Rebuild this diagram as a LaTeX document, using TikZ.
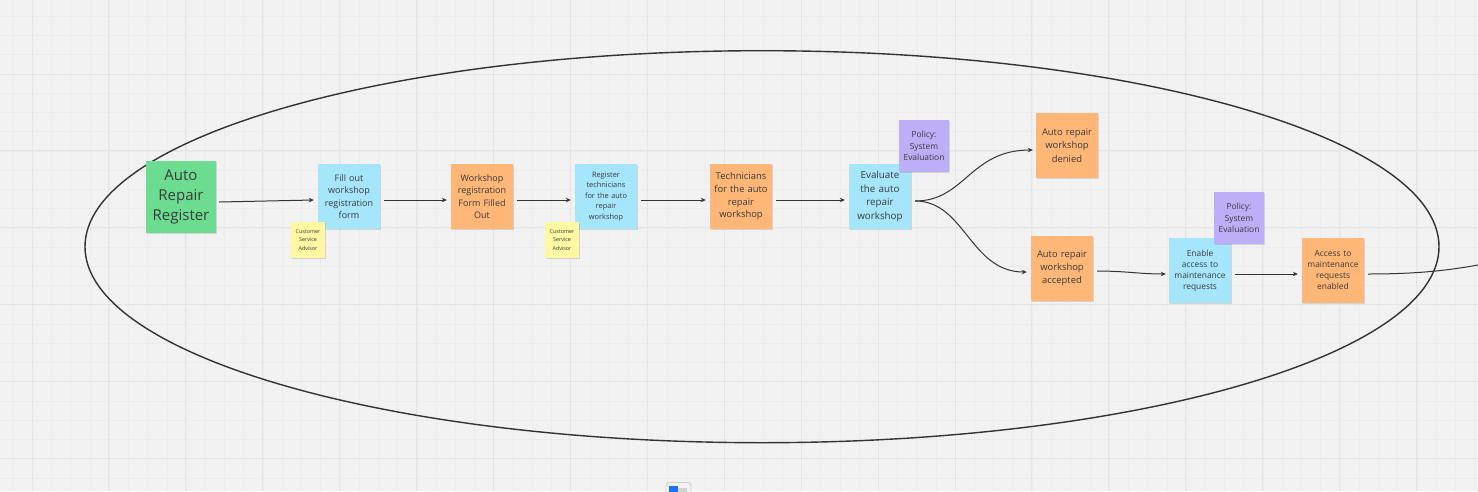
\documentclass[tikz,border=0pt]{standalone}
\usepackage{fontspec}
\setmainfont{Open Sans}
\usetikzlibrary{arrows.meta,shadows}
\definecolor{bg}{HTML}{F2F2F2}
\definecolor{gridminor}{HTML}{ECECEC}
\definecolor{gridmajor}{HTML}{E5E5E5}
\definecolor{sgreen}{HTML}{6CDD90}
\definecolor{sblue}{HTML}{A6E6FC}
\definecolor{sorange}{HTML}{FFB778}
\definecolor{syellow}{HTML}{FFF8A3}
\definecolor{spurple}{HTML}{BCAFF8}
\definecolor{ink}{HTML}{333333}
\definecolor{txt}{HTML}{3A3A3A}
\tikzset{
  sticky/.style={inner sep=0pt, align=center, text=txt,
    drop shadow={shadow xshift=0.6pt, shadow yshift=-1.2pt, opacity=0.12, fill=black}},
  note/.style={sticky, minimum width=62pt, minimum height=65pt, text width=56pt},
  greennote/.style={sticky, fill=sgreen, minimum width=70pt, minimum height=72pt, text width=66pt,
    font=\fontsize{15}{20}\selectfont},
  bluenote/.style={note, fill=sblue},
  orangenote/.style={note, fill=sorange},
  yellownote/.style={sticky, fill=syellow, minimum width=34pt, minimum height=36pt, text width=32pt,
    font=\fontsize{5.4}{8.6}\selectfont},
  purplenote/.style={sticky, fill=spurple, minimum width=50pt, minimum height=52pt, text width=48pt,
    font=\fontsize{8.4}{11.8}\selectfont},
  flow/.style={draw=ink, line width=1pt, -{Stealth[length=5pt,width=4.5pt]}},
  plain/.style={draw=ink, line width=1pt},
}
\begin{document}
\begin{tikzpicture}[x=1pt,y=-1pt]
\useasboundingbox (0,0) rectangle (1478,491);
\fill[bg] (0,0) rectangle (1478,491);
% grid
\foreach \i in {0,...,77} {
  \draw[gridminor, line width=0.6pt] ({13+19.23*\i},0) -- ({13+19.23*\i},491);
}
\foreach \i in {0,...,26} {
  \draw[gridminor, line width=0.6pt] (0,{-2.9+19.23*\i}) -- (1478,{-2.9+19.23*\i});
}
\foreach \i in {0,...,19} {
  \draw[gridmajor, line width=1pt] ({32+76.92*\i},0) -- ({32+76.92*\i},491);
}
\foreach \i in {0,...,6} {
  \draw[gridmajor, line width=1pt] (0,{-2.9+76.92*\i}) -- (1478,{-2.9+76.92*\i});
}
% big ellipse
\draw[ink, line width=1.4pt] (762,246.7) ellipse [x radius=677, y radius=196];

% nodes
\node[greennote] (reg) at (181,197) {Auto\\Repair\\Register};
\node[bluenote, font=\fontsize{9}{12.5}\selectfont] (fill) at (349,196.5) {Fill out\\workshop\\registration\\form};
\node[yellownote] (csa1) at (308,240) {Customer\\Service\\Advisor};
\node[orangenote, font=\fontsize{9}{12.5}\selectfont] (filled) at (482,196.5) {Workshop\\registration\\Form Filled\\Out};
\node[bluenote, font=\fontsize{7.4}{10.5}\selectfont] (regtech) at (606,196.5) {Register\\technicians\\for the auto\\repair\\workshop};
\node[yellownote] (csa2) at (562,240) {Customer\\Service\\Advisor};
\node[orangenote, font=\fontsize{9.4}{12.7}\selectfont] (tech) at (741,196.5) {Technicians\\for the auto\\repair\\workshop};
\node[bluenote, font=\fontsize{9.8}{13.6}\selectfont] (eval) at (880,196.5) {Evaluate\\the auto\\repair\\workshop};
\node[purplenote] (pol1) at (924,146) {Policy:\\System\\Evaluation};
\node[orangenote, font=\fontsize{9.4}{13.3}\selectfont] (denied) at (1067,145.5) {Auto repair\\workshop\\denied};
\node[orangenote, font=\fontsize{9.4}{13.3}\selectfont] (accepted) at (1062,268) {Auto repair\\workshop\\accepted};
\node[bluenote, font=\fontsize{8.4}{11}\selectfont] (enable) at (1200,270.5) {Enable\\access to\\maintenance\\requests};
\node[purplenote] (pol2) at (1239,218) {Policy:\\System\\Evaluation};
\node[orangenote, font=\fontsize{8.4}{11}\selectfont] (access) at (1333,270.5) {Access to\\maintenance\\requests\\enabled};
\coordinate (edge) at (1478,265);

% connectors
\draw[flow] ([xshift=3pt,yshift=-5pt]reg.east) -- ([xshift=-4pt,yshift=-3.5pt]fill.west);
\draw[flow] ([xshift=4pt,yshift=-3.5pt]fill.east) -- ([xshift=-4pt,yshift=-3.5pt]filled.west);
\draw[flow] ([xshift=4pt,yshift=-3.5pt]filled.east) -- ([xshift=-4pt,yshift=-3.5pt]regtech.west);
\draw[flow] ([xshift=4pt,yshift=-3.5pt]regtech.east) -- ([xshift=-4pt,yshift=-3.5pt]tech.west);
\draw[flow] ([xshift=4pt,yshift=-3.5pt]tech.east) -- ([xshift=-4pt,yshift=-3.5pt]eval.west);
\draw[flow] ([xshift=4pt,yshift=-4.5pt]eval.east) .. controls (965,201) and (970,150) .. ([xshift=-3pt,yshift=-4.5pt]denied.west);
\draw[flow] ([xshift=4pt,yshift=-4.5pt]eval.east) .. controls (965,201) and (970,272) .. ([xshift=-4pt,yshift=-4pt]accepted.west);
\draw[flow] ([xshift=4pt,yshift=-3pt]accepted.east) .. controls (1125,271) and (1140,274) .. ([xshift=-3pt,yshift=-3.5pt]enable.west);
\draw[flow] ([xshift=4pt,yshift=-3.5pt]enable.east) -- ([xshift=-4pt,yshift=-3.5pt]access.west);
\draw[plain] ([xshift=4pt,yshift=-3.5pt]access.east) .. controls (1420,274) and (1450,270) .. (edge);

% bottom toolbar icon
\draw[draw=gridmajor!80!gray, fill=bg, line width=0.8pt, rounded corners=3pt] (666,482.5) rectangle (691,496);
\fill[blue!60!cyan!90] (669,486) rectangle (678,496);
\fill[gray!35] (678,488) rectangle (687,496);
\end{tikzpicture}
\end{document}
